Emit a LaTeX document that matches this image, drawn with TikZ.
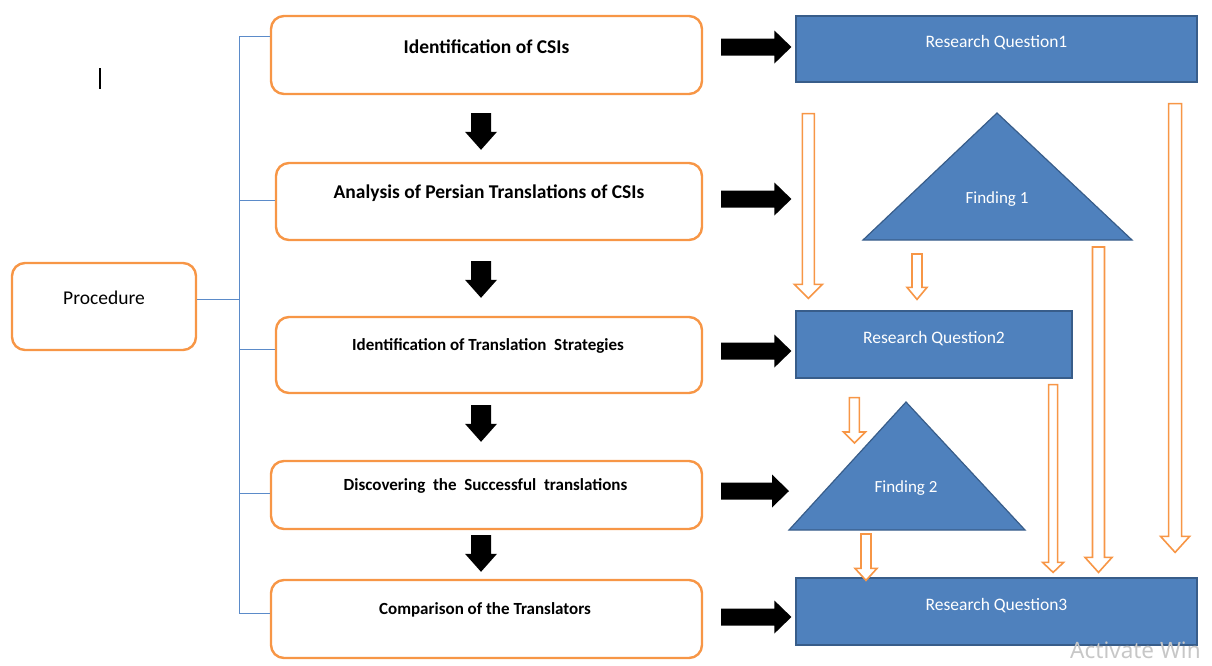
\documentclass[tikz,border=0pt]{standalone}
\usepackage{fontspec}
\setmainfont{Carlito}
\newfontfamily\wmfont{Noto Sans}
\usetikzlibrary{calc}
\definecolor{orng}{HTML}{F79646}
\definecolor{bfill}{HTML}{4F81BD}
\definecolor{bline}{HTML}{385D8A}
\definecolor{brkc}{HTML}{5B8BC9}
% vertical (downward) block arrow: [style]{start}{end}{shaft half width}{head half width}{head length}
\newcommand\vblock[6][]{%
  \draw[#1] let \p1=(#2), \p2=(#3) in
    (\x1-#4,\y1) -- (\x1+#4,\y1) -- (\x1+#4,\y2+#6) -- (\x1+#5,\y2+#6) --
    (\x1,\y2) -- (\x1-#5,\y2+#6) -- (\x1-#4,\y2+#6) -- cycle;}
% horizontal (rightward) block arrow
\newcommand\hblock[6][]{%
  \draw[#1] let \p1=(#2), \p2=(#3) in
    (\x1,\y1+#4) -- (\x2-#6,\y1+#4) -- (\x2-#6,\y1+#5) -- (\x2,\y1) --
    (\x2-#6,\y1-#5) -- (\x2-#6,\y1-#4) -- (\x1,\y1-#4) -- cycle;}
\tikzset{
  lbox/.style={draw=orng, line width=2.4pt, rounded corners=13pt, fill=white, inner sep=0pt},
  ltextA/.style={inner sep=0pt, font=\bfseries\fontsize{19.5}{22}\selectfont},
  ltextB/.style={inner sep=0pt, font=\bfseries\fontsize{17}{20}\selectfont},
  rqbox/.style={draw=bline, fill=bfill, line width=1.2pt, inner sep=0pt},
  wtext/.style={inner sep=0pt, text=white, font=\fontsize{17.5}{20}\selectfont},
  tri/.style={draw=bline, fill=bfill, line width=1.2pt, line join=miter},
  brk/.style={draw=brkc, line width=0.9pt},
  blk/.style={fill=black, draw=none},
  oarr/.style={draw=orng, fill=white, line width=1.6pt, line join=miter},
}
\begin{document}
\begin{tikzpicture}[x=1pt, y=-1pt]
\useasboundingbox (0,0) rectangle (1212,665);

% procedure
\node[lbox, minimum width=184pt, minimum height=87pt] (proc) at (104,306.5) {};
\node[inner sep=0pt, font=\fontsize{19.5}{22}\selectfont] (tproc) at (104,297.5) {Procedure};

% left boxes
\node[lbox, minimum width=431pt, minimum height=78pt] (b1) at (486.5,55) {};
\node[lbox, minimum width=426pt, minimum height=77pt] (b2) at (489,201.5) {};
\node[lbox, minimum width=426pt, minimum height=76pt] (b3) at (489,355) {};
\node[lbox, minimum width=431pt, minimum height=68pt] (b4) at (486.5,495) {};
\node[lbox, minimum width=431pt, minimum height=78pt] (b5) at (486.5,619) {};
\node[ltextA] (t1) at (486.5,46.5) {Identification of CSIs};
\node[ltextA] (t2) at (489,193.5) {Analysis of Persian Translations of CSIs};
\node[ltextB] (t3) at (488,345.5) {Identification of Translation\ \ Strategies};
\node[ltextB] (t4) at (485.5,485.5) {Discovering\ \ the\ \ Successful\ \ translations};
\node[ltextB] (t5) at (485,609.5) {Comparison of the Translators};

% bracket
\coordinate (bt) at (239,36);
\coordinate (bb) at (239,613);
\draw[brk] (b1.west |- bt) -- (bt) -- (bb) -- (b5.west |- bb);
\draw[brk] (proc.east |- 0,299) -- (bt |- 0,299);
\draw[brk] (bt |- 0,200) -- (b2.west |- 0,200);
\draw[brk] (bt |- 0,349) -- (b3.west |- 0,349);
\draw[brk] (bt |- 0,493) -- (b4.west |- 0,493);

% blue boxes
\node[rqbox, minimum width=401pt, minimum height=66pt] (rq1) at (996.5,49) {};
\node[rqbox, minimum width=276pt, minimum height=67pt] (rq2) at (934,344.5) {};
\node[rqbox, minimum width=401pt, minimum height=67pt] (rq3) at (996.5,611.5) {};
\node[wtext] (trq1) at (996.5,42.5) {Research Question1};
\node[wtext] (trq2) at (934,338.5) {Research Question2};
\node[wtext] (trq3) at (996.5,605.5) {Research Question3};

% triangles
\coordinate (f1a) at (997,113);
\coordinate (f1l) at (863,240);
\coordinate (f1r) at (1132,240);
\coordinate (f2a) at (906,402);
\coordinate (f2l) at (789,530);
\coordinate (f2r) at (1025,530);
\draw[tri] (f1a) -- (f1l) -- (f1r) -- cycle;
\draw[tri] (f2a) -- (f2l) -- (f2r) -- cycle;
\node[wtext, font=\fontsize{17}{20}\selectfont] (fn1) at (997,199) {Finding 1};
\node[wtext, font=\fontsize{17}{20}\selectfont] (fn2) at (906,488) {Finding 2};

% black down arrows
\vblock[blk]{$(b1.south)+(-5.5,18)$}{$(b2.north)+(-8,-12)$}{10pt}{16pt}{18pt}
\vblock[blk]{$(b2.south)+(-8,20)$}{$(b3.north)+(-8,-18)$}{10pt}{16pt}{18pt}
\vblock[blk]{$(b3.south)+(-8,11)$}{$(b4.north)+(-5.5,-18)$}{10pt}{16pt}{18pt}
\vblock[blk]{$(b4.south)+(-5.5,5)$}{$(b5.north)+(-5.5,-7)$}{10pt}{16pt}{18pt}

% black right arrows
\hblock[blk]{$(b1.east)+(18,-8)$}{$(rq1.west)+(-4,0)$}{8.5pt}{16.5pt}{17pt}
\hblock[blk]{$(b2.east)+(18,-2.5)$}{$(rq2.west)+(-4,0)$}{8.5pt}{16.5pt}{17pt}
\hblock[blk]{$(b3.east)+(18,-4)$}{$(rq2.west)+(-4,0)$}{8.5pt}{16.5pt}{17pt}
\hblock[blk]{$(b4.east)+(18,-4)$}{$(f2l)+(0,0)$}{8.5pt}{16.5pt}{17pt}
\hblock[blk]{$(b5.east)+(18,-2)$}{$(rq3.west)+(-4,0)$}{8.5pt}{16.5pt}{17pt}

% orange hollow arrows
\vblock[oarr]{$(rq1.south west)+(13,31)$}{$(rq2.north west)+(13,-12)$}{6pt}{14pt}{14pt}
\vblock[oarr]{$(f1l)+(54,14)$}{$(rq2.north west)+(121,-11)$}{5pt}{10pt}{12pt}
\vblock[oarr]{$(rq1.south east)+(-22.5,21)$}{$(rq3.north east)+(-22.5,-25)$}{6.5pt}{14.5pt}{16pt}
\vblock[oarr]{$(f1r)+(-33.5,7)$}{$(rq3.north east)+(-98.5,-5)$}{6pt}{13.5pt}{15pt}
\vblock[oarr]{$(rq2.south east)+(-19.5,6)$}{$(rq3.north west)+(256.5,-5)$}{4.5pt}{10.5pt}{10pt}
\vblock[oarr]{$(rq2.south west)+(59,19)$}{$(f2l)+(66,-87)$}{5pt}{11pt}{11pt}
\vblock[oarr]{$(f2l)+(77,4)$}{$(rq3.north west)+(70,3)$}{5pt}{11pt}{12pt}

% stray mark
\draw[line width=2pt] (100,68) -- (100,89);

% watermark
\node[anchor=base west, inner sep=0pt, text depth=0pt, text=black!22, font=\wmfont\fontsize{22.5}{27}\selectfont] (wm) at (1070,658) {Activate Win};
\end{tikzpicture}
\end{document}
